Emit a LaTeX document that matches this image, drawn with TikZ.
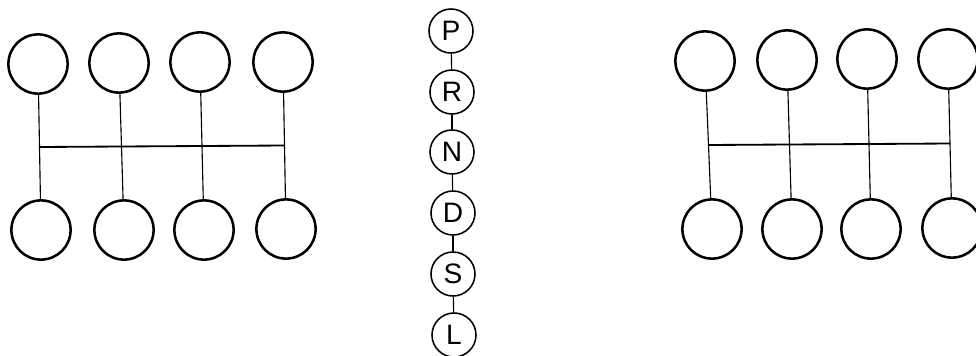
\documentclass[tikz,border=0pt]{standalone}
\usepackage{fontspec}
\setsansfont{Liberation Sans}
\begin{document}
\begin{tikzpicture}[x=0.025cm, y=-0.025cm, line width=1.8pt, gate node/.style={circle,draw,minimum size=1.48cm,inner sep=0pt}, gear node/.style={circle,draw,line width=1.1pt,minimum size=1.1cm,inner sep=0pt,font=\sffamily\fontsize{20}{20}\selectfont}]%pixel coordinates
\useasboundingbox (0,0) rectangle (976,356);
\begin{scope}
\node[gate node] (l1) at (38,64) {};
\node[gate node] (l2) at (119,63) {};
\node[gate node] (l3) at (200,62) {};
\node[gate node] (l4) at (283,62) {};
\node[gate node] (l5) at (41,230) {};
\node[gate node] (l6) at (124,230) {};
\node[gate node] (l7) at (204,230) {};
\node[gate node] (l8) at (286,229) {};
\node[gate node] (r1) at (705,61) {};
\node[gate node] (r2) at (787,60) {};
\node[gate node] (r3) at (867,59) {};
\node[gate node] (r4) at (948,59) {};
\node[gate node] (r5) at (712,229) {};
\node[gate node] (r6) at (792,229) {};
\node[gate node] (r7) at (871,229) {};
\node[gate node] (r8) at (952,228) {};
\end{scope}
\begin{scope}
\node[gear node] (gP) at (451,31) {P};
\node[gear node] (gR) at (452,92) {R};
\node[gear node] (gN) at (452,152) {N};
\node[gear node] (gD) at (453,213) {D};
\node[gear node] (gS) at (453,274) {S};
\node[gear node] (gL) at (454,335) {L};
\end{scope}
\begin{scope}[line width=0.8pt]
\draw (l1) -- coordinate (lm1) (l5);
\draw (l2) -- coordinate (lm2) (l6);
\draw (l3) -- coordinate (lm3) (l7);
\draw (l4) -- coordinate (lm4) (l8);
\draw (r1) -- coordinate (rm1) (r5);
\draw (r2) -- coordinate (rm2) (r6);
\draw (r3) -- coordinate (rm3) (r7);
\draw (r4) -- coordinate (rm4) (r8);
\draw (gP) -- (gR);
\draw (gR) -- (gN);
\draw (gN) -- (gD);
\draw (gD) -- (gS);
\draw (gS) -- (gL);
\end{scope}
\draw[line width=1.3pt] (lm1) -- (lm4);
\draw[line width=1.3pt] (rm1) -- (rm4);
\end{tikzpicture}
\end{document}
